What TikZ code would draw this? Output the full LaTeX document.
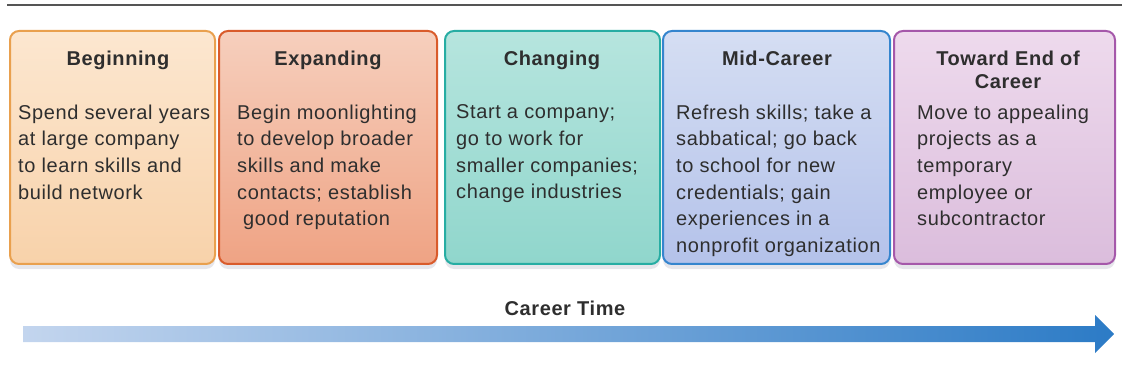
\documentclass[tikz,border=0pt]{standalone}
\usepackage{fontspec}
\setmainfont{Liberation Sans}[LetterSpace=3]
\usetikzlibrary{calc,shadows,positioning}
\definecolor{inkgray}{HTML}{2E2E2E}
\definecolor{rulegray}{HTML}{555555}
\definecolor{begline}{HTML}{E9A04E}
\definecolor{begtop}{HTML}{FCE7D0}
\definecolor{begbot}{HTML}{F8D2AA}
\definecolor{expline}{HTML}{D95B2B}
\definecolor{exptop}{HTML}{F6CFBD}
\definecolor{expbot}{HTML}{EFA384}
\definecolor{chgline}{HTML}{27ADA3}
\definecolor{chgtop}{HTML}{B6E5DE}
\definecolor{chgbot}{HTML}{90D6CC}
\definecolor{midline}{HTML}{3585CE}
\definecolor{midtop}{HTML}{D5DEF3}
\definecolor{midbot}{HTML}{B4C2EA}
\definecolor{endline}{HTML}{A558AA}
\definecolor{endtop}{HTML}{EEDAED}
\definecolor{endbot}{HTML}{DBBDDC}
\definecolor{timelight}{HTML}{C3D5EE}
\definecolor{timedark}{HTML}{2C7BC6}

\begin{document}
\begin{tikzpicture}[x=1pt,y=-1pt,
  stage/.style n args={3}{draw=#1, line width=2pt, rounded corners=9pt,
    top color=#2, bottom color=#3, minimum height=233pt,
    drop shadow={shadow xshift=0pt, shadow yshift=-5pt, fill=blue!12!gray!35, opacity=.5}},
  title/.style={anchor=north, inner sep=0pt, align=center, text=inkgray,
    font=\fontsize{20}{23}\selectfont\bfseries},
  body/.style={anchor=north west, inner sep=0pt, align=left, text=inkgray,
    font=\fontsize{20}{26.7}\selectfont}]
\useasboundingbox (0,0) rectangle (1122,374);
\draw[rulegray, line width=2.2pt] (7,5) -- (1122,5);

% the five stages
\node[stage={begline}{begtop}{begbot}, minimum width=205pt] (beginning) at (112.5,147.5) {};
\node[stage={expline}{exptop}{expbot}, minimum width=218pt] (expanding) at (328,147.5) {};
\node[stage={chgline}{chgtop}{chgbot}, minimum width=215pt] (changing) at (552.5,147.5) {};
\node[stage={midline}{midtop}{midbot}, minimum width=227pt] (midcareer) at (776.5,147.5) {};
\node[stage={endline}{endtop}{endbot}, minimum width=221pt] (endcareer) at (1004.5,147.5) {};

\node[title] (begtitle) at (118,50.5) {Beginning};
\node[title] (exptitle) at (328,50.5) {Expanding};
\node[title] (chgtitle) at (552,50.5) {Changing};
\node[title] (midtitle) at (777,50.5) {Mid-Career};
\node[title] (endtitle) at (1008,50.5) {Toward End of\\Career};

\node[body] (begtext) at (18,104.5) {Spend several years\\at large company\\to learn skills and\\build network};
\node[body] (exptext) at (237,104.5) {Begin moonlighting\\to develop broader\\skills and make\\contacts; establish\\\hspace{6pt}good reputation};
\node[body] (chgtext) at (456,104.5) {Start a company;\\go to work for\\smaller companies;\\change industries};
\node[body] (midtext) at (676,104.5) {Refresh skills; take a\\sabbatical; go back\\to school for new\\credentials; gain\\experiences in a\\nonprofit organization};
\node[body] (endtext) at (917,104.5) {Move to appealing\\projects as a\\temporary\\employee or\\subcontractor};

% time axis
\node[title] (timelabel) at (565,300.5) {Career Time};
\coordinate (tstart) at (23,334);
\coordinate (tend) at (1114,334);
\shade[left color=timelight, right color=timedark]
  ($(tstart)+(0,-8)$) -- ($(tend)+(-19,-8)$) -- ($(tend)+(-19,-19)$) -- (tend)
  -- ($(tend)+(-19,19)$) -- ($(tend)+(-19,8)$) -- ($(tstart)+(0,8)$) -- cycle;
\end{tikzpicture}
\end{document}
